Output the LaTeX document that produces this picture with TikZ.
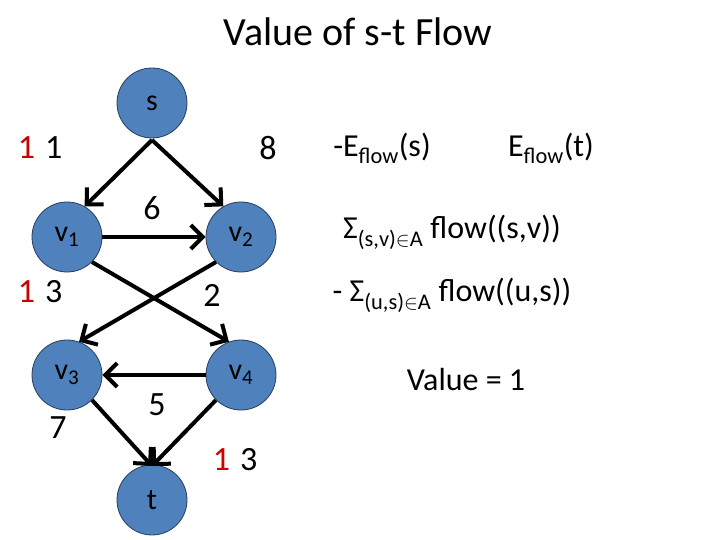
\documentclass[tikz,border=0pt]{standalone}
\usepackage{fontspec}
\setmainfont{Carlito}
\usetikzlibrary{arrows.meta}
\begin{document}
\begin{tikzpicture}[x=1pt,y=-1pt,
  nd/.style={circle,minimum size=70pt,inner sep=0pt,fill={rgb,255:red,79;green,129;blue,189},draw={rgb,255:red,40;green,60;blue,90},line width=0.8pt,font=\fontsize{30}{34}\selectfont},
  ed/.style={line width=4pt,-{Straight Barb[length=12pt,width=24pt,line width=4pt]}},
  lb/.style={font=\fontsize{34}{38}\selectfont},
  tx/.style={font=\fontsize{32}{36}\selectfont}]
\useasboundingbox (0,0) rectangle (720,540);
\node[tx,font=\fontsize{40}{44}\selectfont] (title) at (358,32) {Value of s-t Flow};
\node[nd] (s) at (152,103) {s};
\node[nd] (v1) at (67,237) {v\textsubscript{1}};
\node[nd] (v2) at (241,237) {v\textsubscript{2}};
\node[nd] (v3) at (67,375) {v\textsubscript{3}};
\node[nd] (v4) at (241,375) {v\textsubscript{4}};
\node[nd] (t) at (152,500) {t};
\coordinate (sb) at (152,140);
\coordinate (tt) at (152,466);
\draw[ed] (sb) -- (v1.60);
\draw[ed] (sb) -- (v2.120);
\draw[ed] (v1.east) -- (v2.west);
\draw[ed] (v1.-45) -- (v4.110);
\draw[ed] (v2.-135) -- (v3.70);
\draw[ed] (v4.west) -- (v3.east);
\draw[ed] (v3.-45) -- (tt);
\draw[ed] (v4.-135) -- (tt);
\node[lb] (l1) at (40,148) {\textcolor{red!80!black}{1}\hspace{10pt}1};
\node[lb] (l2) at (268,148) {8};
\node[lb] (l3) at (152,208) {6};
\node[lb] (l4) at (40,292) {\textcolor{red!80!black}{1}\hspace{10pt}3};
\node[lb] (l5) at (212,295) {2};
\node[lb] (l6) at (157,405) {5};
\node[lb] (l7) at (58,428) {7};
\node[lb] (l8) at (235,460) {\textcolor{red!80!black}{1}\hspace{10pt}3};
\node[tx] (r1) at (382,148) {-E\textsubscript{flow}(s)};
\node[tx] (r2) at (551,148) {E\textsubscript{flow}(t)};
\node[tx] (r3) at (452,232) {Σ\textsubscript{(s,v)$\in$A} flow((s,v))};
\node[tx] (r4) at (452,295) {- Σ\textsubscript{(u,s)$\in$A} flow((u,s))};
\node[tx] (r5) at (466,380) {Value = 1};
\end{tikzpicture}
\end{document}
